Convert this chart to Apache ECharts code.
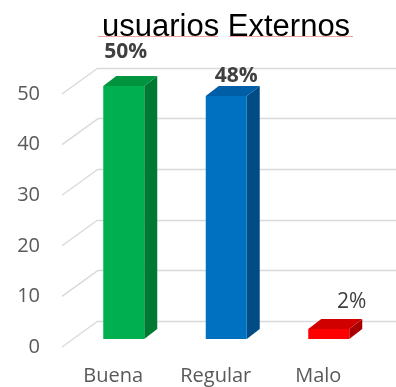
<!DOCTYPE html>
<html>
<head>
<meta charset="utf-8">
<script src="https://cdn.jsdelivr.net/npm/echarts@6/dist/echarts.min.js"></script>
<style>
  html, body { margin: 0; padding: 0; background: #fff; }
  #chart { width: 396px; height: 387px; }
</style>
</head>
<body>
<div id="chart"></div>
<script>
// Survey results: external users
const categories = ['Buena', 'Regular', 'Malo'];
const values = [50, 48, 2];
const valueLabels = ['50%', '48%', '2%'];
const yTicks = [0, 10, 20, 30, 40, 50];

// Styling for the pseudo-3D columns
const frontColors = ['#00b050', '#0070c0', '#ff0000'];
const sideColors = ['#007a33', '#004c85', '#a80000'];
const topColors = ['#00943f', '#005ea6', '#d00000'];
const labelWeights = ['bold', 'bold', 'normal'];
const labelShift = [[2, -34], [10, -20], [23, -27]];

const DEPTH_X = 13, DEPTH_Y = 10;     // column depth
const WALL_X = 36, WALL_Y = 26;       // front plane -> back wall
const FONT = '"Open Sans", sans-serif';

const chart = echarts.init(document.getElementById('chart'), null, { renderer: 'canvas' });

const grids = [
  // 0: front plane (axis labels)
  { left: 62, width: 307.5, top: 94, height: 253 },
  // 1: column plane
  { left: 72.5, width: 307.5, top: 86, height: 253 },
  // 2: back wall (gridlines)
  { left: 98, right: 0, top: 68, height: 253 }
];

chart.setOption({
  animation: false,
  backgroundColor: '#ffffff',
  title: {
    text: 'usuarios Externos',
    left: 97, top: 7,
    textStyle: { fontFamily: '"Liberation Sans", Arial, sans-serif', fontSize: 31, fontWeight: 'normal', color: '#000000' }
  },
  graphic: [
    { type: 'line', shape: { x1: 98, y1: 36.5, x2: 218, y2: 36.5 }, style: { stroke: '#f4a3a3', lineWidth: 1 } },
    { type: 'line', shape: { x1: 229, y1: 36.5, x2: 353, y2: 36.5 }, style: { stroke: '#f4a3a3', lineWidth: 1 } }
  ],
  grid: grids,
  xAxis: [
    {
      gridIndex: 0, type: 'category', data: categories,
      axisLine: { show: false }, axisTick: { show: false },
      axisLabel: { margin: 19, fontFamily: FONT, fontSize: 20, color: '#595959' }
    },
    { gridIndex: 1, type: 'category', data: categories, show: false },
    { gridIndex: 2, type: 'value', min: 0, max: 1, show: false }
  ],
  yAxis: [
    {
      gridIndex: 0, type: 'value', min: 0, max: 50, interval: 10,
      axisLine: { show: false }, axisTick: { show: false }, splitLine: { show: false },
      axisLabel: { margin: 22, fontFamily: FONT, fontSize: 20, color: '#595959' }
    },
    { gridIndex: 1, type: 'value', min: 0, max: 50, interval: 10, show: false, splitLine: { show: false } },
    {
      gridIndex: 2, type: 'value', min: 0, max: 50, interval: 10,
      axisLine: { show: false }, axisTick: { show: false }, axisLabel: { show: false },
      splitLine: { show: true, lineStyle: { color: '#d9d9d9', width: 1.3 } }
    }
  ],
  series: [
    {
      // diagonal floor/wall edges from the front plane to the back wall
      type: 'custom',
      xAxisIndex: 2, yAxisIndex: 2,
      silent: true,
      data: yTicks.map(v => [0, v]),
      renderItem: function (params, api) {
        const p = api.coord([0, api.value(1)]);
        return {
          type: 'line',
          shape: { x1: p[0] - WALL_X, y1: p[1] + WALL_Y, x2: p[0], y2: p[1] },
          style: { stroke: '#d9d9d9', lineWidth: 1.3 }
        };
      }
    },
    {
      type: 'custom',
      xAxisIndex: 1, yAxisIndex: 1,
      data: values.map((v, i) => [i, v]),
      renderItem: function (params, api) {
        const i = api.value(0);
        const base = api.coord([i, 0]);
        const top = api.coord([i, api.value(1)]);
        const w = api.size([1, 0])[0] * 0.4;
        const xl = base[0] - w / 2, xr = base[0] + w / 2;
        const yb = base[1], yt = top[1];
        const idx = params.dataIndex;
        return {
          type: 'group',
          children: [
            {
              type: 'polygon',
              shape: { points: [[xr, yt], [xr, yb], [xr + DEPTH_X, yb - DEPTH_Y], [xr + DEPTH_X, yt - DEPTH_Y]] },
              style: { fill: sideColors[idx] }
            },
            {
              type: 'polygon',
              shape: { points: [[xl, yt], [xr, yt], [xr + DEPTH_X, yt - DEPTH_Y], [xl + DEPTH_X, yt - DEPTH_Y]] },
              style: { fill: topColors[idx] }
            },
            {
              type: 'rect',
              shape: { x: xl, y: yt, width: w, height: yb - yt },
              style: { fill: frontColors[idx] }
            },
            {
              type: 'text',
              x: base[0] + labelShift[idx][0],
              y: yt + labelShift[idx][1],
              style: {
                text: valueLabels[idx],
                align: 'center', verticalAlign: 'middle',
                fontFamily: FONT, fontSize: 21, fontWeight: labelWeights[idx],
                fill: '#404040'
              }
            }
          ]
        };
      }
    }
  ]
});
</script>
</body>
</html>
